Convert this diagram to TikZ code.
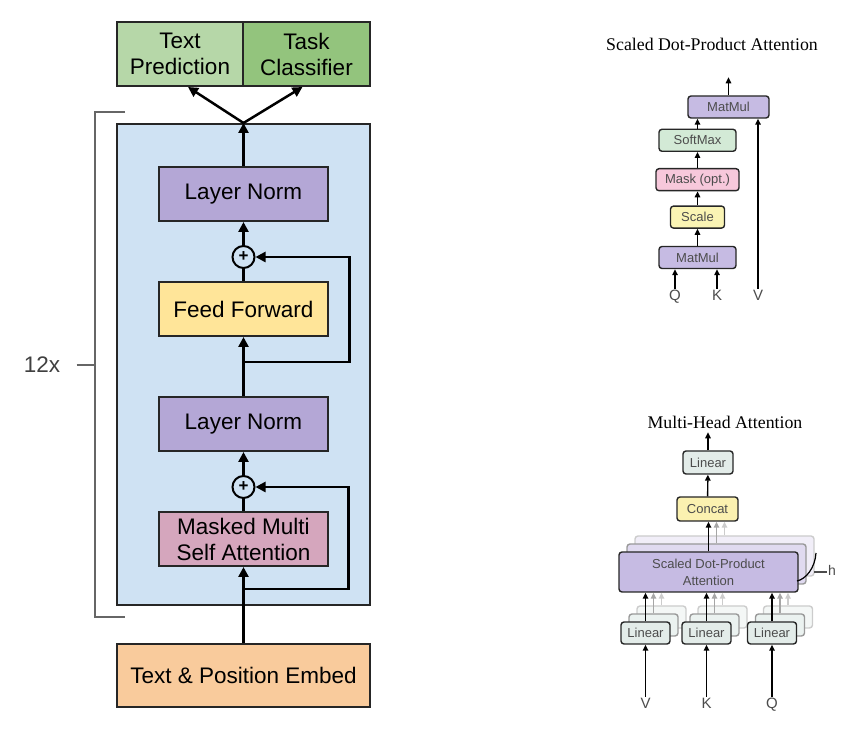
\documentclass[tikz,border=0pt]{standalone}
\usepackage{fontspec}
\setmainfont{Liberation Sans}
\newfontfamily\titlefont{Liberation Serif}
\usepackage{xcolor}
\usepackage{tikz}
\usetikzlibrary{shapes,arrows.meta,positioning,fit,backgrounds}

\definecolor{blockblue}{HTML}{CFE2F3}
\definecolor{normpurple}{HTML}{B4A7D6}
\definecolor{ffyellow}{HTML}{FFE599}
\definecolor{attnpink}{HTML}{D5A6BD}
\definecolor{embedorange}{HTML}{F9CB9C}
\definecolor{predgreen}{HTML}{B6D7A8}
\definecolor{taskgreen}{HTML}{93C47D}
\definecolor{matpurple}{HTML}{C6BBE3}
\definecolor{softgreen}{HTML}{D3EAD6}
\definecolor{maskpink}{HTML}{F7C8DB}
\definecolor{scaleyellow}{HTML}{FAF4B4}
\definecolor{concatyellow}{HTML}{FBF1B0}
\definecolor{lingray}{HTML}{E3ECE9}

\begin{document}
\begin{tikzpicture}[x=1pt, y=1pt,
    node distance=14pt,
    bigfont/.style={font=\fontsize{22.5}{26}\selectfont},
    layerbox/.style={rectangle, draw=black!85, line width=2pt, minimum width=169pt, minimum height=54pt, align=center, inner sep=0pt, bigfont},
    outbox/.style={rectangle, draw=black!85, line width=2pt, minimum height=64pt, align=center, inner sep=0pt, bigfont},
    blockbox/.style={rectangle, draw=black!85, line width=2pt, fill=blockblue, inner sep=0pt},
    addnode/.style={circle, draw=black, line width=2pt, minimum size=22pt, inner sep=0pt, font=\fontsize{17}{17}\selectfont\bfseries},
    flowarrow/.style={draw=black, line width=2.5pt, -{Triangle[length=10pt,width=10pt]}},
    plainflow/.style={draw=black, line width=2.5pt},
    repline/.style={draw=black!60, line width=1.5pt},
    titlestyle/.style={font=\titlefont\fontsize{17.8}{20}\selectfont},
    smallbox/.style={rectangle, rounded corners=3pt, draw=black!85, line width=1.4pt, minimum height=22pt, inner sep=0pt, align=center, text=black!70, font=\fontsize{13}{17}\selectfont},
    linbox/.style={smallbox, minimum width=49pt},
    qkv/.style={inner sep=1pt, text height=11pt, text depth=3pt, text=black!70, font=\fontsize{15}{15}\selectfont},
    smallflow/.style={draw=black, line width=1.4pt, -{Triangle[length=6pt,width=5.5pt]}},
    fadeflow/.style={smallflow, draw=black!35}
]
\useasboundingbox (0,0) rectangle (859,730);

% decoder stack
\node[outbox, minimum width=253pt, minimum height=63pt, fill=embedorange] (embed) at (243.5,54.5) {Text \& Position Embed};
\node[layerbox, fill=attnpink, above=76pt of embed] (masked) {Masked Multi\\Self Attention};
\node[addnode, above=12pt of masked] (add2) {+};
\node[layerbox, fill=normpurple, above=23pt of add2] (ln2) {Layer Norm};
\node[layerbox, fill=ffyellow, above=59pt of ln2] (ff) {Feed Forward};
\node[addnode, above=12pt of ff] (add1) {+};
\node[layerbox, fill=normpurple, above=23pt of add1] (ln1) {Layer Norm};

\begin{scope}[on background layer]
\node[blockbox, fit={(117,125) (370,606)}] (block) {};
\end{scope}

\node[outbox, minimum width=126pt, fill=predgreen] (pred) at (180,676) {Text\\Prediction};
\node[outbox, minimum width=127pt, fill=taskgreen, right=-2pt of pred] (task) {Task\\Classifier};

\draw[flowarrow] (embed) -- (masked);
\draw[plainflow] (masked) -- (add2);
\draw[flowarrow] (add2) -- (ln2);
\draw[flowarrow] (ln2) -- (ff);
\draw[plainflow] (ff) -- (add1);
\draw[flowarrow] (add1) -- (ln1);
\draw[flowarrow] (ln1) -- (block.north);
\draw[flowarrow] (block.north) -- ([xshift=8pt]pred.south);
\draw[flowarrow] (block.north) -- ([xshift=-4pt]task.south);

% residual connections
\coordinate[above=34pt of ln2.north] (skip1);
\coordinate[below=22pt of masked.south] (skip2);
\draw[flowarrow] (skip1) -| ([xshift=94pt]add1.east) -- (add1.east);
\draw[flowarrow] (skip2) -| ([xshift=93pt]add2.east) -- (add2.east);

% repeat bracket
\node[bigfont, text=black!75] (reps) at (42,365) {12x};
\draw[repline] (125,618) -- (95,618) -- (95,113) -- (125,113);
\draw[repline] ([xshift=13pt]reps.east) -- (95,365);

% scaled dot-product attention
\node[titlestyle] (sdpatitle) at (712,686) {Scaled Dot-Product Attention};
\node[smallbox, minimum width=77pt, fill=matpurple] (mm1) at (697.5,472.5) {MatMul};
\node[smallbox, minimum width=54pt, fill=scaleyellow, above=17pt of mm1] (scale) {Scale};
\node[smallbox, minimum width=83pt, fill=maskpink, above=14pt of scale] (mask) {Mask (opt.)};
\node[smallbox, minimum width=77pt, fill=softgreen, above=16pt of mask] (softmax) {SoftMax};
\node[smallbox, minimum width=81pt, fill=matpurple] (mm2) at (728.5,623) {MatMul};
\node[qkv] (q) at (675,433) {Q};
\node[qkv] (k) at (717,433) {K};
\node[qkv] (v) at (758,433) {V};
\coordinate[above=18pt of mm2.north] (sdpaout);

\draw[smallflow] (q) -- (q |- mm1.south);
\draw[smallflow] (k) -- (k |- mm1.south);
\draw[smallflow] (v) -- (v |- mm2.south);
\draw[smallflow] (mm1) -- (scale);
\draw[smallflow] (scale) -- (mask);
\draw[smallflow] (mask) -- (softmax);
\draw[smallflow] (softmax.north) -- (softmax.north |- mm2.south);
\draw[smallflow] (mm2) -- (sdpaout);

% multi-head attention
\node[titlestyle] (mhatitle) at (725,308) {Multi-Head Attention};
\foreach \d/\c/\fc/\dc in {16/2/matpurple!25/black!20, 8/1/matpurple!55/black!40} {
  \node[smallbox, minimum width=179pt, minimum height=40pt, fill=\fc, draw=\dc] (attn-c\c) at (708.5+\d,158+\d) {};
}
\node[smallbox, minimum width=179pt, minimum height=40pt, fill=matpurple] (attn) at (708.5,158) {Scaled Dot-Product\\Attention};

\foreach \lx/\ln/\lab in {645.5/lv/V, 706.5/lk/K, 772/lq/Q} {
  \node[linbox, fill=lingray!40, draw=black!20] (\ln-c2) at (\lx+16,113) {};
  \node[linbox, fill=lingray!70, draw=black!40] (\ln-c1) at (\lx+8,105) {};
  \node[linbox, fill=lingray] (\ln) at (\lx,97) {Linear};
  \node[qkv] (\ln-in) at (\lx,25) {\lab};
  \draw[smallflow] (\ln-in) -- (\ln);
  \draw[smallflow] (\ln) -- (\ln.north |- attn.south);
  \draw[fadeflow] (\ln-c1.north) -- (\ln-c1.north |- attn.south);
  \draw[fadeflow, draw=black!20] (\ln-c2.north) -- (\ln-c2.north |- attn.south);
}

\node[smallbox, minimum width=61pt, minimum height=24pt, fill=concatyellow] (concat) at (707.5,221) {Concat};
\node[smallbox, minimum width=50pt, minimum height=23pt, fill=lingray] (linout) at (708,267.5) {Linear};
\coordinate[above=18pt of linout.north] (mhaout);

\draw[smallflow] (attn.north) -- (attn.north |- concat.south);
\draw[fadeflow] (attn-c1.north) -- (attn-c1.north |- concat.south);
\draw[fadeflow, draw=black!20] (attn-c2.north) -- (attn-c2.north |- concat.south);
\draw[smallflow] (concat) -- (linout);
\draw[smallflow] (linout) -- (mhaout);

% heads
\node[qkv, font=\fontsize{14}{14}\selectfont] (hlab) at (832,158) {h};
\draw[black, line width=1.2pt] (816,177) .. controls (815,162) and (806,151) .. (797,149);
\draw[black!70, line width=1.2pt] (hlab.west) -- ++(-13,0);
\end{tikzpicture}
\end{document}
